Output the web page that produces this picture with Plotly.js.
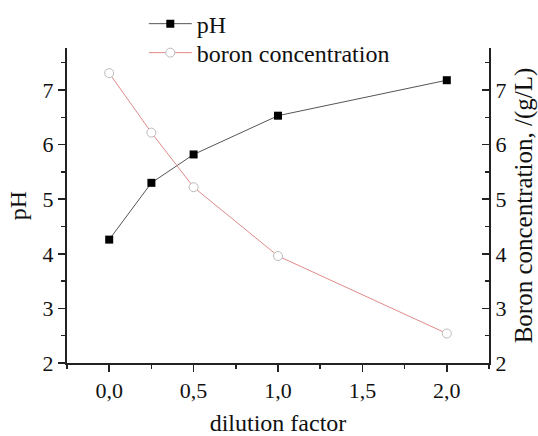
<!DOCTYPE html>
<html>
<head>
<meta charset="utf-8">
<script src="https://cdn.plot.ly/plotly-3.0.1.min.js"></script>
<style>html,body{margin:0;padding:0;background:#fff;}#chart{width:538px;height:436px;}</style>
</head>
<body>
<div id="chart"></div>
<script>
var dilution = [0, 0.25, 0.5, 1.0, 2.0];
var phValues = [4.26, 5.30, 5.82, 6.53, 7.18];
var boronValues = [7.31, 6.22, 5.22, 3.96, 2.54];
var xTickVals = [0, 0.5, 1.0, 1.5, 2.0];
var yTickVals = [2, 3, 4, 5, 6, 7];

var FONT = 'Liberation Serif, Times New Roman, serif';

var traces = [
  {
    x: dilution, y: phValues, name: 'pH', type: 'scatter', mode: 'lines+markers',
    line: {color: '#555555', width: 1},
    marker: {symbol: 'square', size: 8, color: '#000000', line: {width: 0}},
    xaxis: 'x', yaxis: 'y', legend: 'legend'
  },
  {
    x: dilution, y: boronValues, name: 'boron concentration', type: 'scatter', mode: 'lines+markers',
    line: {color: '#e08a8a', width: 1},
    marker: {symbol: 'circle', size: 9, color: '#ffffff', line: {color: '#bbbbbb', width: 1}},
    xaxis: 'x', yaxis: 'y2', legend: 'legend2'
  }
];

var axisCommon = {
  showgrid: false, zeroline: false, showline: true, linecolor: '#222222', linewidth: 2,
  tickcolor: '#222222', tickwidth: 1.5, ticklen: 7,
  tickfont: {family: FONT, size: 22, color: '#111111'}
};

function legendAt(yPaper) {
  return {
    x: 0.182, y: yPaper, xanchor: 'left', yanchor: 'middle',
    bgcolor: 'rgba(0,0,0,0)', borderwidth: 0,
    font: {family: FONT, size: 24, color: '#111111'},
    itemwidth: 43
  };
}

var layout = {
  width: 538, height: 436,
  margin: {l: 67, r: 49, t: 48, b: 73, autoexpand: false},
  paper_bgcolor: '#ffffff', plot_bgcolor: '#ffffff',
  separators: ',.',
  font: {family: FONT, size: 22, color: '#111111'},
  showlegend: true,
  legend: legendAt(1.076),
  legend2: legendAt(0.984),
  xaxis: Object.assign({}, axisCommon, {
    range: [-0.25, 2.25], tickvals: xTickVals, tickformat: '.1f', ticks: 'outside',
    minor: {dtick: 0.25, tick0: 0, ticks: 'outside', ticklen: 4, tickcolor: '#222222', tickwidth: 1.5},
    title: {text: 'dilution factor', font: {family: FONT, size: 24, color: '#111111'}, standoff: 19},
    automargin: false
  }),
  yaxis: Object.assign({}, axisCommon, {
    range: [2, 7.77], tickvals: yTickVals, ticks: 'outside',
    minor: {dtick: 0.5, tick0: 2, ticks: 'outside', ticklen: 4, tickcolor: '#222222', tickwidth: 1.5},
    title: {text: 'pH', font: {family: FONT, size: 24, color: '#111111'}, standoff: 9},
    automargin: false
  }),
  yaxis2: Object.assign({}, axisCommon, {
    range: [2, 7.77], tickvals: yTickVals, ticks: 'inside', overlaying: 'y', side: 'right',
    minor: {dtick: 0.5, tick0: 2, ticks: 'inside', ticklen: 4, tickcolor: '#222222', tickwidth: 1.5},
    title: {text: 'Boron concentration, /(g/L)', font: {family: FONT, size: 25, color: '#111111'}, standoff: 11},
    automargin: false
  })
};

Plotly.newPlot('chart', traces, layout, {displayModeBar: false, staticPlot: true});
</script>
</body>
</html>
